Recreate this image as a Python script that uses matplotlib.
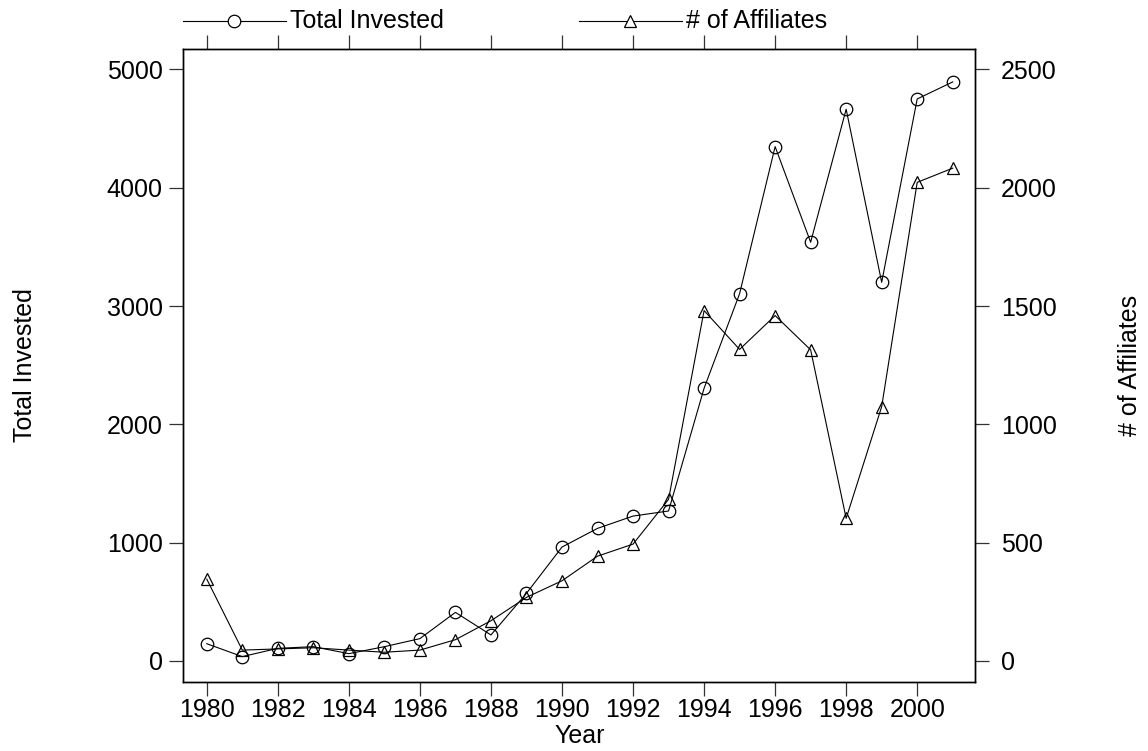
import matplotlib.pyplot as plt
from matplotlib.lines import Line2D

plt.rcParams['font.family'] = ['Liberation Sans', 'DejaVu Sans']

# dados por ano
anos = list(range(1980, 2002))
total_investido = [146, 37, 107, 121, 62, 121, 189, 411, 220, 572, 963, 1121,
                   1225, 1268, 2305, 3105, 4348, 3540, 4664, 3201, 4751, 4895]
num_afiliadas = [346, 46, 51, 56, 46, 37, 46, 90, 170, 269, 339, 443,
                 494, 683, 1481, 1317, 1460, 1315, 603, 1075, 2023, 2083]

FS = 18
COR_EIXO = '#333333'

fig = plt.figure(figsize=(11.48, 7.51), dpi=100)
ax = fig.add_axes([0.1597, 0.0915, 0.6900, 0.8437])
ax2 = ax.twinx()

ax.plot(anos, total_investido, color='black', lw=0.8, marker='o', ms=9,
        mfc='none', mec='black', mew=0.9)
ax2.plot(anos, num_afiliadas, color='black', lw=0.8, marker='^', ms=9,
         mfc='none', mec='black', mew=0.9)

# limites: eixo direito = metade do esquerdo
ylim_esq = (-180, 5176)
ax.set_xlim(1979.34, 2001.64)
ax.set_ylim(*ylim_esq)
ax2.set_ylim(ylim_esq[0] / 2, ylim_esq[1] / 2)

ax.set_xticks(range(1980, 2001, 2))
ax.set_yticks(range(0, 5001, 1000))
ax2.set_yticks(range(0, 2501, 500))

ax.tick_params(axis='x', which='both', direction='out', length=10, width=0.9,
               color=COR_EIXO, labelsize=FS, pad=1.5, top=True, labeltop=False)
ax.tick_params(axis='y', direction='out', length=10, width=0.9, color=COR_EIXO,
               labelsize=FS, pad=5)
ax2.tick_params(axis='y', direction='out', length=10, width=0.9, color=COR_EIXO,
                labelsize=FS, pad=8.5)

for a in (ax, ax2):
    for s in a.spines.values():
        s.set_linewidth(1.0)
        s.set_color('black')

ax.set_xlabel('Year', fontsize=FS, labelpad=1.5)
fig.text(25 / 1148, 1 - 365 / 751, 'Total Invested', fontsize=FS,
         rotation=90, ha='center', va='center')
fig.text(1130 / 1148, 1 - 365 / 751, '# of Affiliates', fontsize=FS,
         rotation=90, ha='center', va='center')

# legenda no topo, desenhada a mao
W, H = 1148, 751
y_leg = 1 - 21 / H
for x0, x1, xm, marc, texto, xt in [
        (183, 286, 234, 'o', 'Total Invested', 290),
        (579, 682, 630, '^', '# of Affiliates', 686)]:
    fig.add_artist(Line2D([x0 / W, x1 / W], [y_leg, y_leg], color='black',
                          lw=0.8, transform=fig.transFigure))
    fig.add_artist(Line2D([xm / W], [y_leg], marker=marc, ms=9, mfc='white',
                          mec='black', mew=0.9, color='black',
                          transform=fig.transFigure))
    fig.text(xt / W, y_leg, texto, fontsize=FS, ha='left', va='center')

fig.savefig('out.png', dpi=100)
